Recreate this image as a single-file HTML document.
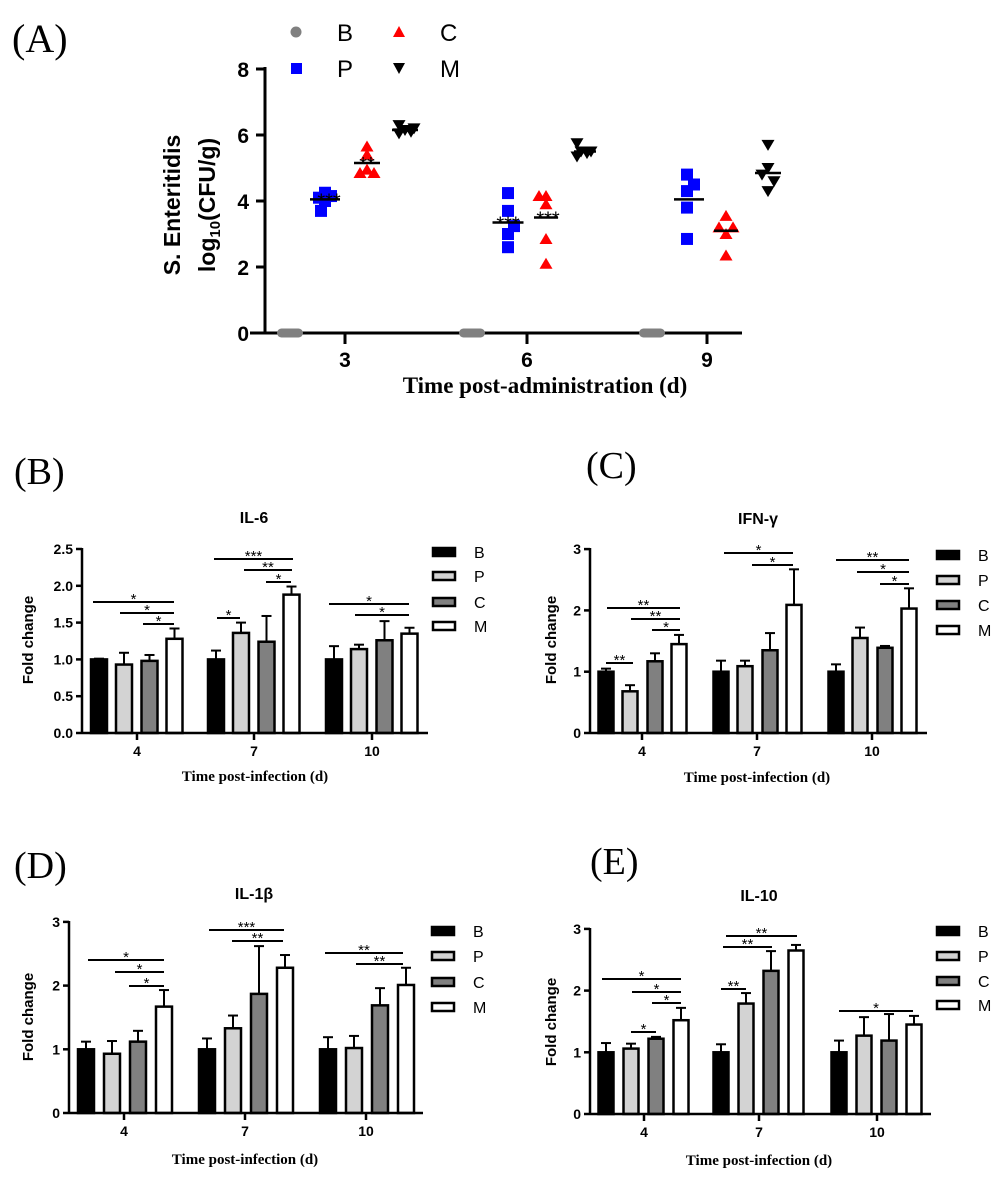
<!DOCTYPE html>
<html><head><meta charset="utf-8"><style>
html,body{margin:0;padding:0;background:#fff;}
svg{display:block;}
.tn{font-family:"Liberation Serif",serif;}
.ar{font-family:"Liberation Sans",sans-serif;}
</style></head><body>
<svg id="s" width="1004" height="1181" viewBox="0 0 1004 1181" xmlns="http://www.w3.org/2000/svg">
<rect width="1004" height="1181" fill="#fff"/>
<text class="tn" x="12" y="52" font-size="40">(A)</text>
<text class="tn" x="14" y="484" font-size="38">(B)</text>
<text class="tn" x="586" y="478" font-size="38">(C)</text>
<text class="tn" x="14" y="878" font-size="38">(D)</text>
<text class="tn" x="590" y="874" font-size="38">(E)</text>

<g class="ar" font-weight="bold" font-size="21" text-anchor="end">
<text x="249" y="77">8</text><text x="249" y="143">6</text><text x="249" y="209">4</text><text x="249" y="275">2</text><text x="249" y="341">0</text>
</g>
<g class="ar" font-weight="bold" font-size="21" text-anchor="middle">
<text x="345" y="367">3</text><text x="527" y="367">6</text><text x="707" y="367">9</text>
</g>
<text class="tn" x="545" y="393" font-size="23" font-weight="bold" text-anchor="middle">Time post-administration (d)</text>
<text class="ar" font-weight="bold" font-size="23" text-anchor="middle" transform="translate(180,205) rotate(-90)">S. Enteritidis</text>
<text class="ar" font-weight="bold" font-size="23" text-anchor="middle" transform="translate(215,205) rotate(-90)">log<tspan font-size="15" dy="5">10</tspan><tspan dy="-5">(CFU/g)</tspan></text>
<g class="ar" font-size="24">
<text x="337" y="41">B</text><text x="440" y="41">C</text><text x="337" y="77">P</text><text x="440" y="77">M</text>
</g>

<g class="ar" font-weight="bold" font-size="16" text-anchor="middle">
<text x="254" y="523">IL-6</text>
<text x="758" y="524">IFN-γ</text>
<text x="254" y="899">IL-1β</text>
<text x="759" y="901">IL-10</text>
</g>
<g class="ar" font-weight="bold" font-size="15" text-anchor="middle">
<text transform="translate(33,640) rotate(-90)">Fold change</text>
<text transform="translate(556,640) rotate(-90)">Fold change</text>
<text transform="translate(33,1017) rotate(-90)">Fold change</text>
<text transform="translate(556,1022) rotate(-90)">Fold change</text>
</g>
<g class="tn" font-weight="bold" font-size="15" text-anchor="middle">
<text x="255" y="781">Time post-infection (d)</text>
<text x="757" y="782">Time post-infection (d)</text>
<text x="245" y="1164">Time post-infection (d)</text>
<text x="759" y="1165">Time post-infection (d)</text>
</g>
<g id="dyn"></g>
</svg>
<script>
var NS="http://www.w3.org/2000/svg",G=document.getElementById("dyn");
function el(t,a,txt){var e=document.createElementNS(NS,t);for(var k in a)e.setAttribute(k,a[k]);if(txt!=null)e.textContent=txt;G.appendChild(e);return e;}
function line(x1,y1,x2,y2,w,c){el("line",{x1:x1,y1:y1,x2:x2,y2:y2,stroke:c||"#000","stroke-width":w||2});}
var ax=265,ay=333,u=33;
line(ax,ay+1.5,ax,67,3);line(250,ay,742,ay,3);
[0,2,4,6,8].forEach(function(v){line(ax-9,ay-v*u,ax,ay-v*u,3);});
[345,527,707].forEach(function(x){line(x,ay,x,ay+11,3);});
el("circle",{cx:296,cy:32,r:5.5,fill:"#808080"});
el("rect",{x:291,y:63,width:11,height:11,fill:"#0000ff"});
el("polygon",{points:"399,26 405,37 393,37",fill:"#ff0000"});
el("polygon",{points:"393,63 405,63 399,74",fill:"#000"});
function sq(x,v){var y=ay-v*u;el("rect",{x:x-6,y:y-6,width:12,height:12,fill:"#0000ff"});}
function tu(x,v){var y=ay-v*u;el("polygon",{points:(x)+","+(y-6)+" "+(x+6.5)+","+(y+5)+" "+(x-6.5)+","+(y+5),fill:"#ff0000"});}
function td(x,v){var y=ay-v*u;el("polygon",{points:(x-6.5)+","+(y-5)+" "+(x+6.5)+","+(y-5)+" "+(x)+","+(y+6),fill:"#000"});}
function mean(x,v,w){line(x-w/2,ay-v*u,x+w/2,ay-v*u,2.5);}
function st(x,v,s){el("text",{x:x,y:ay-v*u+8,"font-size":20,"text-anchor":"middle","font-family":"Liberation Sans"},s);}
var T=[345,527,707];
T.forEach(function(t){el("rect",{x:t-68,y:ay-4.5,width:26,height:9,rx:4.5,fill:"#808080"});});
[[0,4.25],[-6,4.1],[6,4.15],[0,4.0],[-4,3.7]].forEach(function(p){sq(345-20+p[0],p[1]);});
mean(325,4.05,30);st(329,4.05,"***");
[[0,5.65],[0,5.4],[-7,4.85],[7,4.85],[0,4.95]].forEach(function(p){tu(367+p[0],p[1]);});
mean(367,5.15,26);st(367,5.15,"**");
[[-6,6.3],[-6,6.05],[0,6.15],[6,6.1],[9,6.2]].forEach(function(p){td(405+p[0],p[1]);});
mean(405,6.15,26);
[[0,4.24],[0,3.7],[6,3.24],[0,3.0],[0,2.6]].forEach(function(p){sq(508+p[0],p[1]);});
mean(508,3.35,31);st(508,3.35,"***");
[[-7,4.15],[0,4.15],[0,3.9],[0,2.85],[0,2.1]].forEach(function(p){tu(546+p[0],p[1]);});
mean(546,3.5,24);st(548,3.5,"***");
[[-6,5.75],[-2,5.5],[4,5.45],[8,5.5],[-6,5.35]].forEach(function(p){td(583+p[0],p[1]);});
mean(585,5.5,22);
[[0,4.8],[7,4.5],[0,4.3],[0,3.8],[0,2.85]].forEach(function(p){sq(687+p[0],p[1]);});
mean(689,4.05,30);
[[0,3.55],[-7,3.2],[7,3.2],[0,3.0],[0,2.35]].forEach(function(p){tu(726+p[0],p[1]);});
mean(726,3.1,24);
[[0,5.7],[0,5.0],[-6,4.8],[6,4.6],[0,4.3]].forEach(function(p){td(768+p[0],p[1]);});
mean(768,4.85,26);
var fills=["#000","#d3d3d3","#808080","#fff"];
function panel(c){
  var upp=c.upp;
  c.data.forEach(function(g,gi){
    g.forEach(function(b,bi){
      var cx=c.ticks[gi]+c.offs[bi],top=c.y0-b[0]*upp,et=c.y0-(b[0]+b[1])*upp;
      line(cx,top,cx,et,2);line(cx-5,et,cx+5,et,2);
      el("rect",{x:cx-c.bw/2,y:top,width:c.bw,height:c.y0-top,fill:fills[bi],stroke:"#000","stroke-width":2.5});
    });
  });
  line(c.ax,c.y0+1,c.ax,c.ytop-1,2.5);line(c.ax,c.y0,c.xend,c.y0,2.5);
  c.yt.forEach(function(t){var y=c.y0-t[0]*upp;line(c.ax-6,y,c.ax,y,2.5);
    el("text",{x:c.ax-9,y:y+5,"font-size":14,"font-weight":"bold","text-anchor":"end","font-family":"Liberation Sans"},t[1]);});
  c.ticks.forEach(function(x,i){line(x,c.y0,x,c.y0+7,2.5);
    el("text",{x:x,y:c.y0+23,"font-size":14,"font-weight":"bold","text-anchor":"middle","font-family":"Liberation Sans"},["4","7","10"][i]);});
  c.sig.forEach(function(s){line(s[0],s[2],s[1],s[2],2);
    el("text",{x:(s[0]+s[1])/2,y:s[2]+2,"font-size":15,"text-anchor":"middle","font-family":"Liberation Sans"},s[3]);});
  ["B","P","C","M"].forEach(function(n,i){var y=c.ly[i];
    el("rect",{x:c.lx,y:y-4,width:22,height:8,fill:fills[i],stroke:"#000","stroke-width":2.5});
    el("text",{x:c.lx+41,y:y+6,"font-size":16,"font-family":"Liberation Sans"},n);});
}
var offs=[-38,-13,12.5,37.5];
panel({ax:82,y0:733,upp:73.6,ytop:549,xend:428,ticks:[137,254,372],offs:offs,bw:16,
 yt:[[0,"0.0"],[0.5,"0.5"],[1,"1.0"],[1.5,"1.5"],[2,"2.0"],[2.5,"2.5"]],
 data:[[[1,0.01],[0.93,0.16],[0.98,0.08],[1.28,0.14]],[[1,0.12],[1.36,0.14],[1.24,0.35],[1.88,0.11]],[[1,0.18],[1.14,0.06],[1.26,0.26],[1.35,0.08]]],
 sig:[[93,174,602,"*"],[120,174,613,"*"],[143,174,624,"*"],[214,293,559,"***"],[244,292,570,"**"],[266,291,582,"*"],[217,240,618,"*"],[329,409,604,"*"],[355,409,615,"*"]],
 lx:433,ly:[552,576,602,626]});
panel({ax:590,y0:733,upp:61.3,ytop:549,xend:927,ticks:[642,757,872],offs:[-36,-12,13,37],bw:15,
 yt:[[0,"0"],[1,"1"],[2,"2"],[3,"3"]],
 data:[[[1,0.05],[0.68,0.1],[1.17,0.13],[1.45,0.15]],[[1,0.18],[1.09,0.09],[1.35,0.28],[2.09,0.58]],[[1,0.12],[1.55,0.17],[1.39,0.03],[2.03,0.33]]],
 sig:[[607,680,608,"**"],[631,680,619,"**"],[652,680,630,"*"],[606,633,663,"**"],[724,793,553,"*"],[752,793,565,"*"],[836,909,560,"**"],[857,909,572,"*"],[880,909,584,"*"]],
 lx:937,ly:[555,580,605,630]});
panel({ax:69,y0:1113,upp:63.7,ytop:922,xend:423,ticks:[124,245,366],offs:[-38,-12,14,40],bw:16,
 yt:[[0,"0"],[1,"1"],[2,"2"],[3,"3"]],
 data:[[[1,0.12],[0.93,0.2],[1.12,0.17],[1.67,0.26]],[[1,0.17],[1.33,0.2],[1.87,0.75],[2.28,0.2]],[[1,0.19],[1.02,0.19],[1.69,0.27],[2.01,0.27]]],
 sig:[[88,164,960,"*"],[115,164,972,"*"],[129,164,986,"*"],[209,284,930,"***"],[232,283,941,"**"],[325,403,953,"**"],[356,403,964,"**"]],
 lx:432,ly:[931,956,982,1007]});
panel({ax:590,y0:1114,upp:61.7,ytop:929,xend:931,ticks:[644,759,877],offs:[-38,-13,12,37],bw:15,
 yt:[[0,"0"],[1,"1"],[2,"2"],[3,"3"]],
 data:[[[1,0.15],[1.06,0.08],[1.22,0.03],[1.52,0.2]],[[1,0.13],[1.79,0.17],[2.32,0.32],[2.65,0.09]],[[1,0.19],[1.27,0.3],[1.19,0.43],[1.45,0.14]]],
 sig:[[602,681,979,"*"],[632,681,992,"*"],[652,681,1003,"*"],[631,656,1032,"*"],[726,797,936,"**"],[723,772,947,"**"],[721,746,989,"**"],[839,913,1011,"*"]],
 lx:937,ly:[931,956,981,1005]});
</script>
</body></html>
